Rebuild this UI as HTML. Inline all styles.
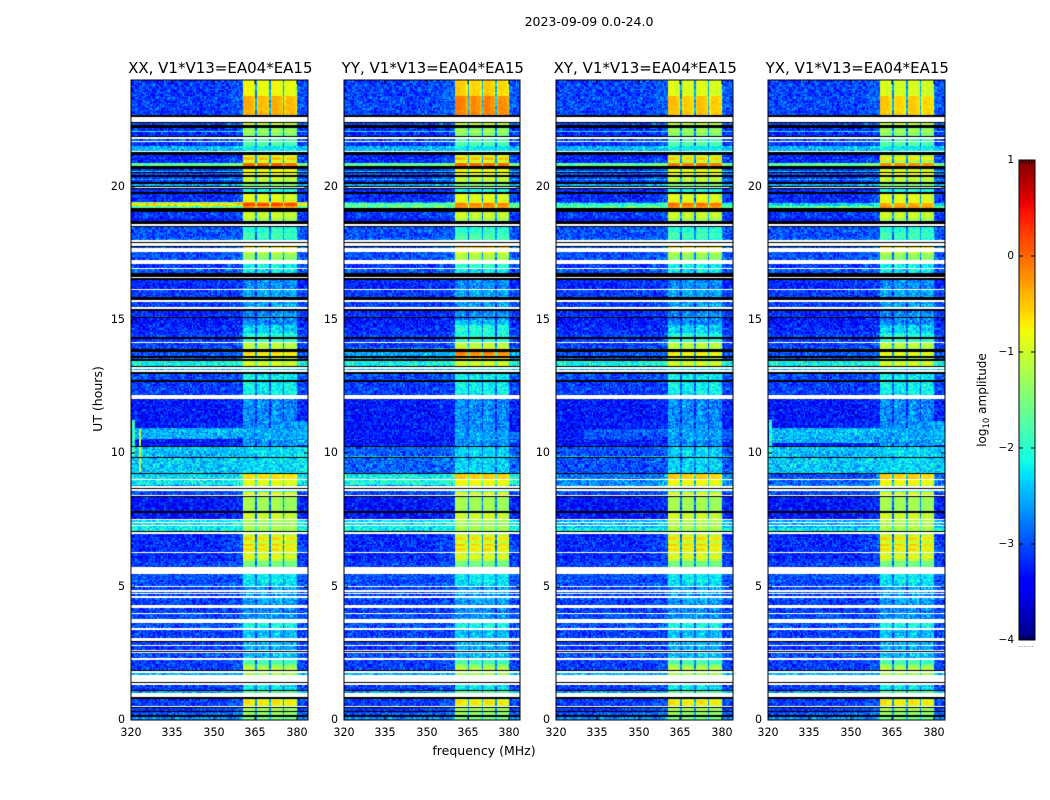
<!DOCTYPE html>
<html>
<head>
<meta charset="utf-8">
<title>2023-09-09 dynamic spectra</title>
<style>
html,body{margin:0;padding:0;background:#fff;}
#stage{position:relative;width:1050px;height:800px;overflow:hidden;background:#fff;font-family:"DejaVu Sans","Liberation Sans",sans-serif;}
canvas{position:absolute;display:block;}
svg{position:absolute;left:0;top:0;}
</style>
</head>
<body>
<div id="stage">
<canvas id="heat0" width="177" height="640" style="left:131px;top:80px"></canvas>
<canvas id="heat1" width="176" height="640" style="left:344px;top:80px"></canvas>
<canvas id="heat2" width="177" height="640" style="left:556px;top:80px"></canvas>
<canvas id="heat3" width="177" height="640" style="left:768px;top:80px"></canvas>
<svg id="overlay" width="1050" height="800" viewBox="0 0 1050 800"></svg>
</div>
<script>
// ---- data ----
const freqTicks = [320, 335, 350, 365, 380];
const utTicks = [0, 5, 10, 15, 20];
const colorbarTicks = [1, 0, -1, -2, -3, -4];
const panelTitles = ["XX, V1*V13=EA04*EA15", "YY, V1*V13=EA04*EA15", "XY, V1*V13=EA04*EA15", "YX, V1*V13=EA04*EA15"];

// UT at the top of each time segment: [ut, background log10 amp, band log10 amp]; 'w' = flagged blank, 'k' = zero amplitude
const timeSegments = [
[24.000,-3.1,-0.75],[23.400,-3.1,-0.35],[22.688,'k'],[22.613,'w'],[22.425,'k'],[22.388,-3.0,-1.0],[22.313,'k'],[22.200,-3.2,-1.35],
[22.088,-2.2,-0.9],[22.050,-3.2,-1.4],[21.900,'k'],[21.863,'w'],[21.788,-3.0,-1.8],[21.713,'w'],[21.675,-3.1,-1.7],[21.525,-2.5,-2.2],
[21.338,'w'],[21.300,'k'],[21.188,-3.2,-0.9],[21.113,-3.2,-0.4],[21.000,-3.2,-0.9],[20.888,-1.7,0.05],[20.775,'k'],[20.663,-3.1,-0.75],
[20.588,-2.4,-0.7],[20.550,'k'],[20.513,-3.1,-0.75],[20.438,'k'],[20.363,-3.1,-0.95],[20.288,-2.6,-0.9],[20.250,-3.1,-1.15],[20.175,'k'],
[20.100,-2.5,-1.4],[20.025,'k'],[19.988,'w'],[19.950,'k'],[19.913,-3.2,-2.0],[19.800,'k'],[19.725,-3.2,-0.85],[19.425,-1.6,-0.3],
[19.388,-0.7,0.2],[19.275,-1.7,-0.2],[19.200,'k'],[19.050,-3.1,-0.95],[18.825,-3.3,-1.2],[18.713,'k'],[18.600,'w'],[18.525,'k'],
[18.488,-3.0,-1.95],[18.263,-3.0,-1.8],[18.075,-2.9,-2.0],[18.000,'w'],[17.925,'k'],[17.888,'w'],[17.775,'k'],[17.738,-3.0,-0.6],
[17.700,'w'],[17.550,-3.0,-1.0],[17.475,-3.0,-1.35],[17.250,'w'],[17.100,-3.1,-2.1],[16.950,'w'],[16.913,-3.0,-2.2],[16.763,'k'],
[16.613,'w'],[16.575,'k'],[16.500,-3.2,-2.65],[16.163,'w'],[16.125,-3.1,-2.55],[15.863,'k'],[15.750,'w'],[15.675,-3.1,-2.55],
[15.488,'w'],[15.413,'k'],[15.338,-3.2,-2.7],[15.113,'k'],[15.075,-3.3,-2.65],[14.813,-3.2,-2.3],[14.513,-3.1,-2.0],[14.363,'k'],
[14.288,-3.1,-1.85],[14.175,'w'],[14.138,-3.1,-1.05],[13.913,'k'],[13.800,-3.0,-0.55],[13.725,-3.0,-0.7],[13.650,'k'],[13.575,-2.9,-1.0],
[13.538,'k'],[13.463,-2.1,-0.95],[13.275,'k'],[13.238,'w'],[13.163,-2.5,-2.1],[13.125,'w'],[13.050,'k'],[12.975,-3.0,-2.15],
[12.750,'k'],[12.675,-3.1,-2.15],[12.188,'w'],[12.038,-3.3,-2.65],[11.063,-3.3,-2.6],[10.275,'k'],[10.238,-2.45,-2.35],[9.863,'k'],
[9.825,-2.4,-2.3],[9.263,'k'],[9.225,-2.3,-0.6],[9.038,'w'],[9.000,-2.2,-0.85],[8.813,-2.7,-1.05],[8.775,'w'],[8.700,'k'],
[8.663,'w'],[8.588,-2.9,-2.0],[8.550,-3.1,-0.85],[8.438,'w'],[8.400,'k'],[8.363,-3.3,-1.2],[7.838,'k'],[7.763,-3.3,-0.95],
[7.538,'w'],[7.500,-2.3,-1.2],[7.425,'w'],[7.388,-2.2,-1.3],[7.313,'w'],[7.275,-2.2,-1.2],[7.088,'k'],[7.050,'w'],
[6.975,-3.2,-1.0],[6.863,-3.2,-0.55],[6.750,-3.2,-0.95],[6.600,-3.2,-0.5],[6.525,-3.2,-0.9],[6.450,-3.2,-0.55],[6.338,-3.2,-1.0],[6.300,'w'],
[6.263,-3.2,-1.0],[6.150,-3.2,-0.65],[6.075,-3.2,-1.05],[5.963,-3.1,-1.5],[5.738,'w'],[5.475,-3.0,-2.2],[5.025,'w'],[4.988,-3.1,-2.6],
[4.875,'w'],[4.800,-3.1,-2.6],[4.763,'w'],[4.725,-3.1,-2.6],[4.650,'w'],[4.575,-3.1,-2.55],[4.313,'w'],[4.200,-3.1,-2.7],
[4.013,'w'],[3.975,-3.0,-2.6],[3.788,'w'],[3.638,-3.0,-2.1],[3.450,'w'],[3.375,-3.1,-2.4],[3.075,'w'],[2.963,'k'],
[2.925,-3.1,-2.5],[2.813,'w'],[2.775,-3.1,-2.5],[2.625,'w'],[2.588,'k'],[2.550,'w'],[2.513,-3.0,-2.4],[2.325,'w'],
[2.250,-3.1,-1.8],[2.100,-3.1,-1.4],[1.988,-3.1,-1.05],[1.875,'k'],[1.838,'w'],[1.763,-2.5,-1.2],[1.688,'w'],[1.425,'k'],
[1.388,'w'],[1.313,-3.1,-2.2],[1.125,'k'],[1.088,-2.6,-1.6],[1.013,'w'],[0.863,'k'],[0.788,-3.1,-1.2],[0.750,-3.1,-0.6],
[0.563,-3.1,-1.05],[0.525,'w'],[0.488,'k'],[0.450,-3.1,-1.2],[0.338,'k'],[0.300,-3.0,-1.3],[0.188,'k'],[0.113,-2.7,-1.5]
];

// Band response per 0.5 MHz channel starting at 320 MHz
const channelWeight = [
0,0,0,0,0,0,0,0,0,0,0,0,0,0,0,0,0,0,0,0,0,0,0,0,0,0,0,0,0,0,0,0,
0,0,0,0,0,0,0,0,0,0,0,0,0,0,0,0,0,0,0,0,0,0,0,0,0,0,0,0,0,0,0,0,
.01,.01,.01,.02,.02,.02,.03,.03,.03,.04,.04,.05,.05,.06,.07,.08,.10,
1,1,1,1,.99,.98,.97,.96,.9,.2,
.92,.97,.98,.98,.97,.96,.96,.95,.9,.2,
.94,1,1,1,.99,.98,.97,.96,.9,.2,
.9,.96,.97,.97,.96,.96,.95,.94,.88,
.1,.06,.05,.05,.04,.04,.03,.03
];

// Per-panel level changes against XX: [utFrom, utTo, background shift, band shift]
const adjustXX = [];
const adjustYY = [[22.7,24,.05,.25],[19.27,19.43,-1.0,-.3],[13.45,13.95,.4,.5],[9.9,10.24,-.5,0],[9.26,9.83,-.5,0],[8.8,9.23,.15,.1],[14.5,15,0,.3],[16.9,18.1,0,.2]];
const adjustXY = [[22.7,24,.05,-.1],[19.27,19.43,-1.3,-.2],[13.45,13.95,0,-.1],[9.9,10.24,-.55,0],[9.26,9.83,-.6,0],[8.8,9.23,-.5,.1],[7.2,7.55,-.25,.1],[20.6,21.2,0,-.1]];
const adjustYX = [[22.7,24,.05,-.15],[19.27,19.43,-1.6,-.5],[13.45,13.95,0,-.2],[9.9,10.24,0,0],[9.26,9.83,0,0],[8.8,9.23,-.7,.1],[7.2,7.55,-.3,.1],[20.6,21.2,0,-.25]];
const panelAdjust = [adjustXX, adjustYY, adjustXY, adjustYX];

// Localised interference: [fFrom, fTo, utFrom, utTo, log10 amp floor]
const patchesXX = [[320.5,384,10.55,10.95,-2.55],[320.5,321.5,9.95,11.25,-1.9],[323,323.5,9.3,10.9,-1.0],[372,384,10.3,11.2,-2.55],[380,384,9.3,10.2,-2.2]];
const patchesYY = [[365,384,10.4,10.8,-2.9]];
const patchesXY = [[330,384,10.5,10.9,-3.0]];
const patchesYX = [[320.5,384,10.4,10.95,-2.5],[320.5,321.5,9.95,11.25,-2.0],[372,384,10.3,11.2,-2.5]];
const panelPatches = [patchesXX, patchesYY, patchesXY, patchesYX];

// Residual amplitude speckle, estimated from the noise texture
const speckle = [.12,-.55,.81,-.2,.34,-.91,.05,.47,-.36,.66,-.13,-.72,.28,1,-.44,.09,-.27,.58,-.63,.17,
-.08,.39,-1,.73,-.31,.22,-.5,.94,.02,-.67,.43,-.16,.3,-.83,.61,-.24,.14,-.4,.86,-.58,
.07,.52,-.76,.25,-.11,.69,-.35,.19,-.95,.4,-.03,.77,-.48,.32,-.21,.55,-.69,.1,.89,-.29,
.36,-.6,.04,.63,-.15,-.85,.46,.21,-.38,.71,-.07,-.52,.27,.98,-.42,.13,-.78,.5,-.25,.37,
-.65,.08,.6,-.33,.18,-.88,.44,-.1,.75,-.46,.26,-.19,.83,-.57,.01,.33,-.74,.54,-.3,.16,-.05];

// ---- scales and colours ----
const panelLeft = [131, 344, 556, 768];
const panelRight = [308, 520, 733, 945];
const F0 = 320, F1 = 384, CH = 0.5, PLOT_TOP = 80, PLOT_BOTTOM = 720, UT_MAX = 24;
function xScale(p, f) { return panelLeft[p] + (f - F0) * (panelRight[p] - panelLeft[p]) / (F1 - F0); }
function yScale(h) { return PLOT_BOTTOM - h * (PLOT_BOTTOM - PLOT_TOP) / UT_MAX; }

function ramp(pts, t) {
  for (let i = 1; i < pts.length; i++) {
    if (t <= pts[i][0]) {
      const a = pts[i - 1], b = pts[i];
      return a[1] + (b[1] - a[1]) * (t - a[0]) / (b[0] - a[0]);
    }
  }
  return pts[pts.length - 1][1];
}
const jetR = [[0,0],[.35,0],[.66,1],[.89,1],[1,.5]];
const jetG = [[0,0],[.125,0],[.375,1],[.64,1],[.91,0],[1,0]];
const jetB = [[0,.5],[.11,1],[.34,1],[.65,0],[1,0]];
const lut = [];
for (let i = 0; i < 256; i++) {
  const t = i / 255;
  lut.push('rgb(' + Math.round(255 * ramp(jetR, t)) + ',' + Math.round(255 * ramp(jetG, t)) + ',' + Math.round(255 * ramp(jetB, t)) + ')');
}
function colorOf(v) {
  const t = Math.max(0, Math.min(1, (v + 4) / 5));
  return lut[Math.round(t * 255)];
}

// ---- heatmaps ----
function segmentAt(h) {
  let s = timeSegments[0];
  for (let i = 0; i < timeSegments.length; i++) {
    if (timeSegments[i][0] >= h) s = timeSegments[i]; else break;
  }
  return s;
}
function drawHeat(p) {
  const cv = document.getElementById('heat' + p);
  const ctx = cv.getContext('2d');
  const nCh = Math.round((F1 - F0) / CH);
  const adj = panelAdjust[p], pat = panelPatches[p];
  const edges = [];
  for (let c = 0; c <= nCh; c++) edges.push(Math.round(xScale(p, F0 + c * CH) - panelLeft[p]));
  for (let py = PLOT_TOP; py < PLOT_BOTTOM; py++) {
    const h = (PLOT_BOTTOM - py - 0.5) * UT_MAX / (PLOT_BOTTOM - PLOT_TOP);
    const seg = segmentAt(h);
    const yy = py - PLOT_TOP;
    if (seg[1] === 'w' || seg[1] === 'k') {
      ctx.fillStyle = seg[1] === 'w' ? '#fff' : '#000';
      ctx.fillRect(0, yy, cv.width, 1);
      continue;
    }
    let bg = seg[1], band = seg[2];
    for (const a of adj) if (h >= a[0] && h < a[1]) { bg += a[2]; band += a[3]; }
    const calm = 0.82 * Math.max(0, Math.min(1, (band + 2.7) / 1.5));
    const r = Math.floor(yy / 1.4);
    for (let c = 0; c < nCh; c++) {
      const w = channelWeight[c] || 0;
      const f = F0 + (c + 0.5) * CH;
      let base = bg;
      for (const q of pat) if (f >= q[0] && f < q[1] && h >= q[2] && h < q[3]) base = Math.max(base, q[4]);
      const idx = (c * c * 3 + r * r * 5 + c * r * 7 + c * 11 + r * 13) % speckle.length;
      const v = base + (band - base) * w + speckle[idx] * 0.48 * (1 - calm * w);
      ctx.fillStyle = colorOf(v);
      ctx.fillRect(edges[c], yy, edges[c + 1] - edges[c], 1);
    }
  }
}
for (let p = 0; p < 4; p++) drawHeat(p);

// ---- axes ----
const NS = 'http://www.w3.org/2000/svg';
const svg = document.getElementById('overlay');
function mk(tag, attrs, parent) {
  const e = document.createElementNS(NS, tag);
  for (const k in attrs) e.setAttribute(k, attrs[k]);
  (parent || svg).appendChild(e);
  return e;
}
function line(x1, y1, x2, y2, parent, width) {
  return mk('line', { x1: x1, y1: y1, x2: x2, y2: y2, stroke: '#000', 'stroke-width': width || 1 }, parent);
}
function label(txt, x, y, size, anchor, parent) {
  const t = mk('text', { x: x, y: y, 'font-size': size, 'text-anchor': anchor || 'middle', fill: '#000', 'font-family': '"DejaVu Sans","Liberation Sans",sans-serif' }, parent);
  t.textContent = txt;
  return t;
}
const TICK = 4;
for (let p = 0; p < 4; p++) {
  const L = panelLeft[p], R = panelRight[p];
  const g = mk('g', {});
  
  
  const frame = mk('rect', { x: L, y: PLOT_TOP, width: R - L, height: PLOT_BOTTOM - PLOT_TOP, fill: 'none', stroke: '#000', 'stroke-width': 1 }, g);
  
  
  const title = label(panelTitles[p], (L + R) / 2 + 0.8, 73, 15, 'middle', g);
  
  
  for (const f of freqTicks) {
    const x = Math.round(xScale(p, f));
    line(x, PLOT_BOTTOM, x, PLOT_BOTTOM - TICK, g);
    line(x, PLOT_TOP, x, PLOT_TOP + TICK, g);
    const t = label(String(f), x, 736, 11.1, 'middle', g);
    
    
  }
  for (const h of utTicks) {
    const y = Math.round(yScale(h));
    line(L, y, L + TICK, y, g);
    line(R, y, R - TICK, y, g);
    const t = label(String(h), L - 6, y + 3, 11.1, 'end', g);
    
    
  }
}
const yTitle = label('UT (hours)', 0, 0, 12.5, 'middle');
yTitle.setAttribute('transform', 'translate(102,399) rotate(-90)');


const xTitle = label('frequency (MHz)', 484, 755, 12.5);


const supTitle = label('2023-09-09 0.0-24.0', 589, 26, 12.5);



// ---- colourbar ----
const CB_L = 1019, CB_R = 1035, CB_T = 160, CB_B = 640, V_MIN = -4, V_MAX = 1;
function cbScale(v) { return CB_B - (v - V_MIN) * (CB_B - CB_T) / (V_MAX - V_MIN); }
const cb = mk('g', {});


for (let i = 0; i < 240; i++) {
  const v0 = V_MIN + i * (V_MAX - V_MIN) / 240;
  const v1 = V_MIN + (i + 1) * (V_MAX - V_MIN) / 240;
  const y1 = Math.round(cbScale(v1)), y0 = Math.round(cbScale(v0));
  mk('rect', { x: CB_L, y: y1, width: CB_R - CB_L, height: y0 - y1, fill: colorOf((v0 + v1) / 2) }, cb);
}
mk('rect', { x: CB_L, y: CB_T, width: CB_R - CB_L, height: CB_B - CB_T, fill: 'none', stroke: '#000', 'stroke-width': 1 }, cb);
for (const v of colorbarTicks) {
  const y = Math.round(cbScale(v));
  line(CB_L, y, CB_L + 4, y, cb);
  line(CB_R, y, CB_R - 4, y, cb);
  const t = label(String(v).replace('-', '\u2212'), CB_L - 5, y + 3, 10.5, 'end', cb);
  
  
}
for (let i = 1; i < 5; i++) {
  const x = CB_L + i * (CB_R - CB_L) / 5;
  line(x, CB_T, x, CB_T + 4, cb);
  line(x, CB_B, x, CB_B - 4, cb);
}
const cbDots = label('......', (CB_L + CB_R) / 2 - 1, 647, 8, 'middle', cb);
cbDots.setAttribute('fill', '#777');


const cbTitle = mk('text', { 'font-size': 12, 'text-anchor': 'middle', fill: '#000', transform: 'translate(986,400) rotate(-90)', 'font-family': '"DejaVu Sans","Liberation Sans",sans-serif' });


cbTitle.appendChild(document.createTextNode('log'));
const cbSub = mk('tspan', { 'font-size': 8.5, dy: 3 }, cbTitle);
cbSub.textContent = '10';
const cbRest = mk('tspan', { dy: -3 }, cbTitle);
cbRest.textContent = ' amplitude';
</script>
</body>
</html>
